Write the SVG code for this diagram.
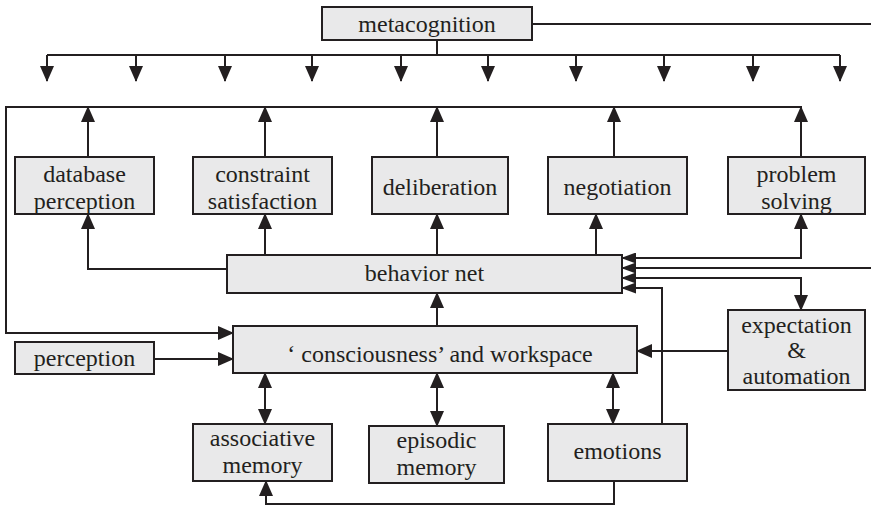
<svg xmlns="http://www.w3.org/2000/svg" width="871" height="507" viewBox="0 0 871 507" font-family="Liberation Serif, Times New Roman, serif">
<defs>
<style>
.box{fill:#e9e9ea;stroke:#231f20;stroke-width:2}
.t{font-family:'Liberation Serif','Times New Roman',serif;font-size:24px;fill:#231f20;text-anchor:middle}
.c{fill:none;stroke:#231f20;stroke-width:2}
.a{marker-end:url(#ah)}
.b{marker-start:url(#ah);marker-end:url(#ah)}
.s{marker-end:url(#sh)}
</style>
<marker id="ah" markerUnits="userSpaceOnUse" markerWidth="16" markerHeight="14" refX="15" refY="7" orient="auto-start-reverse" viewBox="0 0 16 14">
<path d="M0,0 L16,7 L0,14 z" fill="#231f20"/>
</marker>
<marker id="sh" markerUnits="userSpaceOnUse" markerWidth="15" markerHeight="11" refX="14" refY="5.5" orient="auto-start-reverse" viewBox="0 0 15 11">
<path d="M0,0 L15,5.5 L0,11 z" fill="#231f20"/>
</marker>
</defs>
<rect width="871" height="507" fill="#ffffff"/>
<g id="connectors">
<path class="c" d="M532,24 H871"/>
<path class="c" d="M437,40 V55"/>
<path class="c" d="M47,55 H840"/>
<path class="c a" d="M47,55 V81"/>
<path class="c a" d="M136,55 V81"/>
<path class="c a" d="M225,55 V81"/>
<path class="c a" d="M312,55 V81"/>
<path class="c a" d="M401,55 V81"/>
<path class="c a" d="M488,55 V81"/>
<path class="c a" d="M576,55 V81"/>
<path class="c a" d="M664,55 V81"/>
<path class="c a" d="M753,55 V81"/>
<path class="c a" d="M840,55 V81"/>
<path class="c a" d="M802,107 H6 V333 H233"/>
<path class="c a" d="M88,157 V107"/>
<path class="c a" d="M265,157 V107"/>
<path class="c a" d="M437,157 V107"/>
<path class="c a" d="M614,157 V107"/>
<path class="c a" d="M801,157 V107"/>
<path class="c a" d="M227,269 H88 V214"/>
<path class="c a" d="M265,255 V214"/>
<path class="c a" d="M437,255 V214"/>
<path class="c a" d="M596,255 V214"/>
<path class="c" d="M622,258 H801 V214" marker-end="url(#ah)" marker-start="url(#sh)"/>
<path class="c s" d="M871,268 H622"/>
<path class="c" d="M622,278 H801 V310" marker-end="url(#ah)" marker-start="url(#sh)"/>
<path class="c s" d="M662,424 V288 H622"/>
<path class="c a" d="M437,326 V293"/>
<path class="c a" d="M728,351 H637"/>
<path class="c a" d="M154,359 H233"/>
<path class="c b" d="M265,373 V424"/>
<path class="c b" d="M437,373 V426"/>
<path class="c b" d="M613,373 V424"/>
<path class="c a" d="M614,481 V504 H266 V481"/>
</g>
<g id="metacognition"><rect class="box" x="322" y="7" width="210" height="33"/><text class="t" x="427" y="32">metacognition</text></g>
<g id="database-perception"><rect class="box" x="15" y="157" width="139" height="57"/><text class="t" x="84.5" y="182">database</text><text class="t" x="84.5" y="209">perception</text></g>
<g id="constraint-satisfaction"><rect class="box" x="193" y="157" width="139" height="57"/><text class="t" x="262.5" y="182">constraint</text><text class="t" x="262.5" y="209">satisfaction</text></g>
<g id="deliberation"><rect class="box" x="372" y="157" width="136" height="57"/><text class="t" x="440" y="195">deliberation</text></g>
<g id="negotiation"><rect class="box" x="548" y="157" width="139" height="57"/><text class="t" x="617.5" y="195">negotiation</text></g>
<g id="problem-solving"><rect class="box" x="728" y="157" width="137" height="57"/><text class="t" x="796.5" y="182">problem</text><text class="t" x="796.5" y="209">solving</text></g>
<g id="behavior-net"><rect class="box" x="227" y="255" width="395" height="38"/><text class="t" x="424.5" y="281">behavior net</text></g>
<g id="consciousness"><rect class="box" x="233" y="326" width="404" height="47"/><text class="t" x="440" y="362">‘ consciousness’ and workspace</text></g>
<g id="perception"><rect class="box" x="15" y="342" width="139" height="32"/><text class="t" x="84.5" y="366">perception</text></g>
<g id="expectation-automation"><rect class="box" x="728" y="310" width="137" height="80"/><text class="t" x="796.5" y="333">expectation</text><text class="t" x="796.5" y="358">&amp;</text><text class="t" x="796.5" y="384">automation</text></g>
<g id="associative-memory"><rect class="box" x="193" y="424" width="139" height="57"/><text class="t" x="262.5" y="446">associative</text><text class="t" x="262.5" y="473">memory</text></g>
<g id="episodic-memory"><rect class="box" x="369" y="426" width="135" height="57"/><text class="t" x="436.5" y="448">episodic</text><text class="t" x="436.5" y="475">memory</text></g>
<g id="emotions"><rect class="box" x="548" y="424" width="139" height="57"/><text class="t" x="617.5" y="459">emotions</text></g>
</svg>
